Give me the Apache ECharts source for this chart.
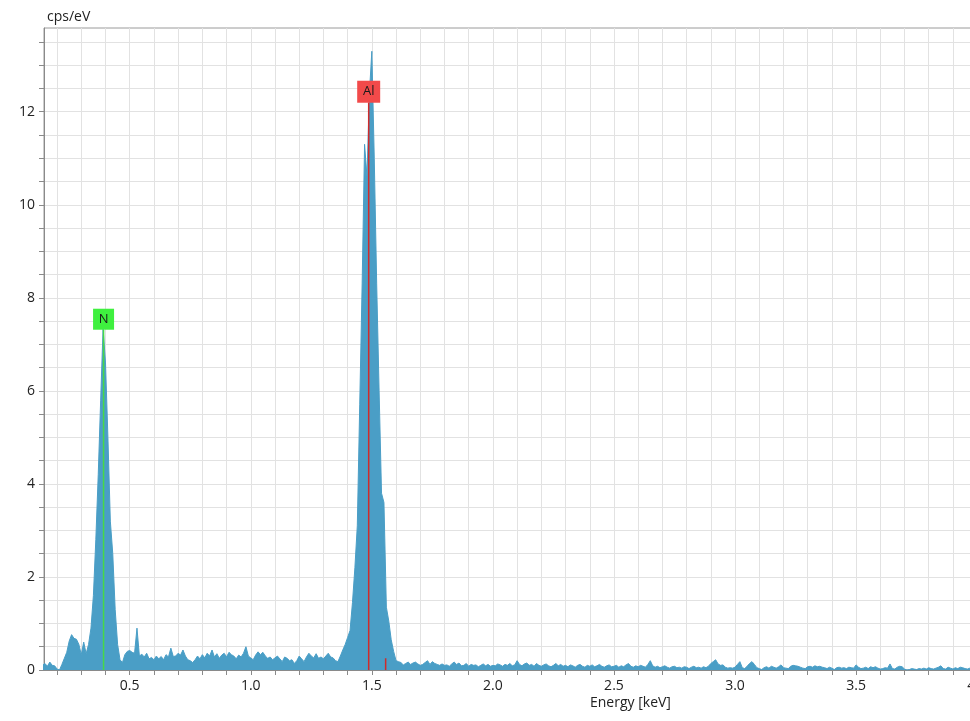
<!DOCTYPE html>
<html><head><meta charset="utf-8">
<script src="https://cdn.jsdelivr.net/npm/echarts@6/dist/echarts.min.js"></script>
<style>html,body{margin:0;padding:0;background:#fff;overflow:hidden;width:970px;height:721px}#c{width:990px;height:721px}</style>
</head><body><div id="c"></div>
<script>
// EDS spectrum: channel calibration (keV) and counts (cps/eV)
const channelStart = 0.14;
const channelWidth = 0.01;
const counts = [
  0.10,0.14,0.08,0.17,0.10,0.09,
  0.02,0.00,0.12,0.25,0.38,0.62,0.76,0.68,0.66,0.55,
  0.33,0.60,0.35,0.55,0.90,1.60,2.80,4.20,5.80,7.35,
  6.60,5.00,3.20,2.50,1.30,0.55,0.22,0.16,0.33,0.40,
  0.42,0.38,0.36,0.90,0.30,0.34,0.28,0.36,0.24,0.27,
  0.22,0.30,0.24,0.29,0.22,0.33,0.28,0.47,0.29,0.30,
  0.36,0.32,0.43,0.30,0.22,0.20,0.16,0.22,0.30,0.24,
  0.33,0.26,0.36,0.30,0.43,0.28,0.35,0.25,0.32,0.36,
  0.28,0.38,0.33,0.30,0.24,0.32,0.28,0.36,0.50,0.30,
  0.26,0.22,0.32,0.39,0.33,0.38,0.30,0.25,0.28,0.22,
  0.26,0.30,0.24,0.18,0.28,0.25,0.20,0.22,0.14,0.20,
  0.30,0.24,0.18,0.28,0.36,0.30,0.26,0.35,0.25,0.28,
  0.24,0.30,0.36,0.28,0.26,0.20,0.18,0.30,0.43,0.55,
  0.70,0.85,1.45,2.20,3.10,5.70,8.30,11.30,10.60,12.40,
  13.30,11.00,8.30,6.00,3.80,3.60,1.35,1.05,0.65,0.40,
  0.20,0.18,0.16,0.11,0.14,0.17,0.12,0.15,0.17,0.13,
  0.10,0.12,0.16,0.20,0.12,0.18,0.14,0.12,0.10,0.13,
  0.10,0.11,0.08,0.13,0.17,0.12,0.15,0.09,0.10,0.14,
  0.08,0.12,0.10,0.11,0.07,0.10,0.13,0.09,0.12,0.08,
  0.10,0.09,0.13,0.11,0.08,0.12,0.10,0.14,0.09,0.11,
  0.20,0.12,0.09,0.13,0.15,0.10,0.12,0.08,0.14,0.10,
  0.08,0.11,0.13,0.09,0.07,0.10,0.14,0.09,0.12,0.08,
  0.10,0.07,0.11,0.09,0.06,0.10,0.12,0.08,0.06,0.10,
  0.08,0.11,0.07,0.09,0.12,0.08,0.06,0.09,0.11,0.07,
  0.08,0.10,0.06,0.09,0.07,0.11,0.14,0.08,0.06,0.09,
  0.07,0.10,0.08,0.06,0.12,0.20,0.09,0.06,0.08,0.05,
  0.07,0.09,0.06,0.04,0.07,0.08,0.05,0.06,0.04,0.07,
  0.06,0.03,0.06,0.08,0.05,0.06,0.04,0.07,0.05,0.08,
  0.14,0.18,0.22,0.13,0.10,0.11,0.06,0.04,0.05,0.04,
  0.06,0.12,0.18,0.05,0.03,0.08,0.14,0.18,0.12,0.05,
  0.03,0.01,0.05,0.07,0.04,0.08,0.06,0.04,0.07,0.11,
  0.05,0.04,0.03,0.08,0.10,0.09,0.08,0.06,0.04,0.03,
  0.07,0.08,0.06,0.09,0.07,0.08,0.06,0.05,0.03,0.06,
  0.04,0.01,0.05,0.06,0.04,0.05,0.03,0.06,0.05,0.04,
  0.11,0.06,0.03,0.04,0.06,0.03,0.07,0.05,0.07,0.04,
  0.02,0.03,0.05,0.04,0.13,0.03,0.02,0.06,0.08,0.07,
  0.02,0.00,0.01,0.03,0.02,0.01,0.03,0.02,0.04,0.02,
  0.05,0.03,0.02,0.04,0.06,0.09,0.03,0.02,0.06,0.04,
  0.02,0.05,0.03,0.06,0.05,0.03,0.02,0.04,0.03,0.02,
  0.03,0.02,0.04,0.03,0.02,0.03
];

const xTickValues = [0.2,0.3,0.4,0.5,0.6,0.7,0.8,0.9,1.0,1.1,1.2,1.3,1.4,1.5,1.6,1.7,1.8,1.9,2.0,
  2.1,2.2,2.3,2.4,2.5,2.6,2.7,2.8,2.9,3.0,3.1,3.2,3.3,3.4,3.5,3.6,3.7,3.8,3.9,4.0];
const xLabelValues = [0.5,1.0,1.5,2.0,2.5,3.0,3.5,4.0];
const yTickValues = [0,0.5,1,1.5,2,2.5,3,3.5,4,4.5,5,5.5,6,6.5,7,7.5,8,8.5,9,9.5,10,10.5,11,11.5,12,12.5,13,13.5];
const yLabelValues = [0,2,4,6,8,10,12];

// Element identification lines
const elements = ['N', 'Al'];
const lineEnergies = [0.392, 1.487];
const lineTops = [7.31, 12.2];
const labelHeights = [7.54, 12.43];
const extraLineEnergies = [1.557];
const extraLineTops = [0.25];

const spectrum = counts.map((v, i) => [+(channelStart + i * channelWidth).toFixed(3), v]);

const boxColors = ['#3ff03f', '#f24a4a'];
const lineColors = ['#47d847', '#cf2b2b'];
const boxSizes = [[21, 21], [23, 22]];

const FONT = 'Open Sans';
const series = [{
  type: 'line', data: spectrum, showSymbol: false, symbol: 'none', z: 2,
  lineStyle: { color: '#4a9ec6', width: 1 },
  areaStyle: { color: '#4a9ec6', opacity: 1 }
}];
elements.forEach((el, i) => {
  series.push({
    type: 'line', symbol: 'none', z: 3,
    data: [[lineEnergies[i], 0], [lineEnergies[i], lineTops[i]]],
    lineStyle: { color: lineColors[i], width: 1.5 }
  });
});
extraLineEnergies.forEach((e, i) => {
  series.push({
    type: 'line', symbol: 'none', z: 3,
    data: [[e, 0], [e, extraLineTops[i]]],
    lineStyle: { color: '#cf2b2b', width: 1.5 }
  });
});
series.push({
  type: 'scatter', z: 4,
  data: elements.map((el, i) => ({
    value: [lineEnergies[i], labelHeights[i]], name: el,
    symbolSize: boxSizes[i], itemStyle: { color: boxColors[i], opacity: 1 }
  })),
  symbol: 'rect',
  label: { show: true, position: 'inside', formatter: p => p.name, color: '#1a1a1a',
    fontFamily: FONT, fontSize: 13 }
});

const chart = echarts.init(document.getElementById('c'), null, { renderer: 'canvas' });
chart.setOption({
  animation: false,
  backgroundColor: '#fff',
  grid: { left: 44, top: 28, bottom: 51, right: 0, show: true, borderColor: '#9a9a9a', borderWidth: 1, backgroundColor: 'transparent' },
  xAxis: {
    type: 'value', min: 0.146, max: 4.05,
    axisLine: { show: true, onZero: false, lineStyle: { color: '#8a8a8a' } },
    axisTick: { show: true, length: 5, inside: false, customValues: xTickValues, lineStyle: { color: '#8a8a8a' } },
    axisLabel: { customValues: xLabelValues, formatter: v => v.toFixed(1), color: '#222', fontFamily: FONT, fontSize: 14, margin: 9 },
    splitLine: { show: true, lineStyle: { color: '#e2e2e2', width: 1 } }
  },
  yAxis: {
    type: 'value', min: 0, max: 13.8,
    name: 'cps/eV', nameLocation: 'end', nameGap: 4,
    nameTextStyle: { align: 'left', verticalAlign: 'bottom', color: '#222', fontFamily: FONT, fontSize: 14, padding: [0, 0, 0, 3] },
    axisLine: { show: true, lineStyle: { color: '#8a8a8a' } },
    axisTick: { show: true, length: 5, customValues: yTickValues, lineStyle: { color: '#8a8a8a' } },
    axisLabel: { customValues: yLabelValues, color: '#222', fontFamily: FONT, fontSize: 14, margin: 9 },
    splitLine: { show: true, lineStyle: { color: '#e2e2e2', width: 1 } }
  },
  graphic: [{
    type: 'text', left: 590, top: 696,
    style: { text: 'Energy [keV]', fill: '#222', font: '14px "Open Sans"' }
  }],
  series: series
});
</script>
</body></html>
